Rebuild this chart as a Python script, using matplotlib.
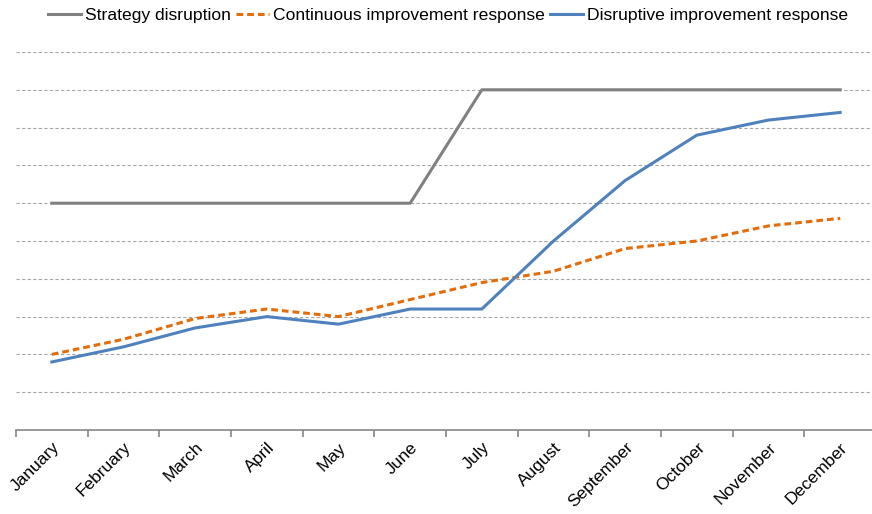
import matplotlib
matplotlib.use("Agg")
import matplotlib.pyplot as plt
import numpy as np

plt.rcParams['font.family'] = ['Liberation Sans', 'DejaVu Sans']

months = ["January", "February", "March", "April", "May", "June",
          "July", "August", "September", "October", "November", "December"]
strategy = [6, 6, 6, 6, 6, 6, 9, 9, 9, 9, 9, 9]
continuous = [2.0, 2.4, 2.95, 3.2, 3.0, 3.45, 3.9, 4.2, 4.8, 5.0, 5.4, 5.6]
disruptive = [1.8, 2.2, 2.7, 3.0, 2.8, 3.2, 3.2, 5.0, 6.6, 7.8, 8.2, 8.4]

W, H = 872, 514
fig = plt.figure(figsize=(W / 100, H / 100), dpi=100)
left, right, top, bottom = 16, 876, 52, 430
ax = fig.add_axes([left / W, 1 - bottom / H, (right - left) / W, (bottom - top) / H])

x = np.arange(len(months))
ax.plot(x, strategy, color="#808080", lw=2.2, label="Strategy disruption", zorder=3)
ax.plot(x, continuous, color="#E46C0A", lw=2.2, ls=(0, (2.2, 1.3)),
        label="Continuous improvement response", zorder=3)
ax.plot(x, disruptive, color="#4F81BD", lw=2.2, label="Disruptive improvement response", zorder=3)

ax.set_xlim(-0.5, len(months) - 0.5)
ax.set_ylim(0, 10)
ax.set_yticks(np.arange(1, 11))
ax.yaxis.grid(True, color="#A6A6A6", ls=(0, (3, 2)), lw=0.8)
ax.tick_params(axis='y', left=False, labelleft=False)

ax.set_xticks(x)
ax.set_xticklabels(months, rotation=45, ha='right', rotation_mode='anchor',
                   fontsize=12.5, color="#000000")
ax.tick_params(axis='x', which='major', length=0, pad=7)
ax.set_xticks(np.arange(-0.5, len(months), 1), minor=True)
ax.tick_params(axis='x', which='minor', length=5, color="#868686", width=1.2)

for s in ["left", "right", "top"]:
    ax.spines[s].set_visible(False)
ax.spines["bottom"].set_color("#868686")
ax.spines["bottom"].set_linewidth(1.2)
ax.spines["bottom"].set_zorder(4)

handles, labels = ax.get_legend_handles_labels()
fig.legend(handles, labels, loc='center', bbox_to_anchor=(448 / W, 1 - 15 / H),
           ncol=3, frameon=False, fontsize=12.6, handlelength=1.9,
           handletextpad=0.2, columnspacing=0.3)

fig.savefig("out.png", dpi=100)
